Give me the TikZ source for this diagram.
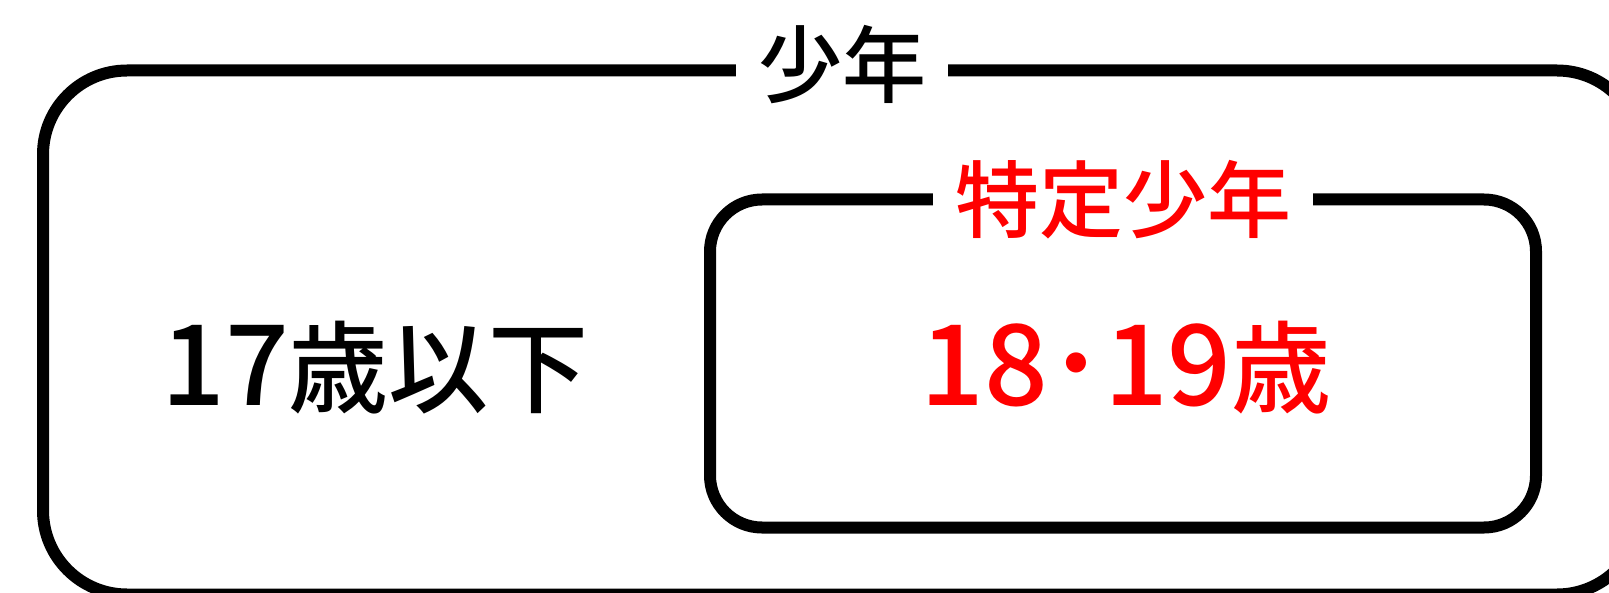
\documentclass[tikz,border=0pt]{standalone}
\usepackage{fontspec}
\newfontfamily\cjk{Noto Sans CJK JP Medium}
\usetikzlibrary{positioning}

\newcommand\agenum[1]{{\fontsize{56}{56}\selectfont #1}}

\tikzset{
  frame/.style={draw, line width=6pt, rounded corners=#1, inner sep=0pt, outer sep=0pt, anchor=north west},
  label/.style={fill=white, inner xsep=11pt, inner ysep=0pt, font=\cjk\fontsize{42}{42}\selectfont},
  age/.style={font=\cjk\fontsize{50}{50}\selectfont},
}

\begin{document}
\begin{tikzpicture}[x=0.5pt,y=-0.5pt]
  \useasboundingbox (0,0) rectangle (1609,593);
  \clip (0,0) rectangle (1609,593);

  % le grand cadre et le petit cadre
  \node[frame=42pt, minimum width=799pt, minimum height=262pt] (shonen) at (43,70.5) {};
  \node[frame=26pt, minimum width=413pt, minimum height=164pt] (tokutei) at (710,199.5) {};

  % les titres
  \node[label, yshift=3pt] (shonenlbl) at (shonen.north) {少年};
  \node[label, text=red] (tokuteilbl) at (tokutei.north) {特定少年};

  % les ages
  \node[age] (under) at (375,368) {\agenum{17}歳以下};
  \node[age, text=red] (ages) at (1126,368) {\agenum{18･19}歳};
\end{tikzpicture}
\end{document}
